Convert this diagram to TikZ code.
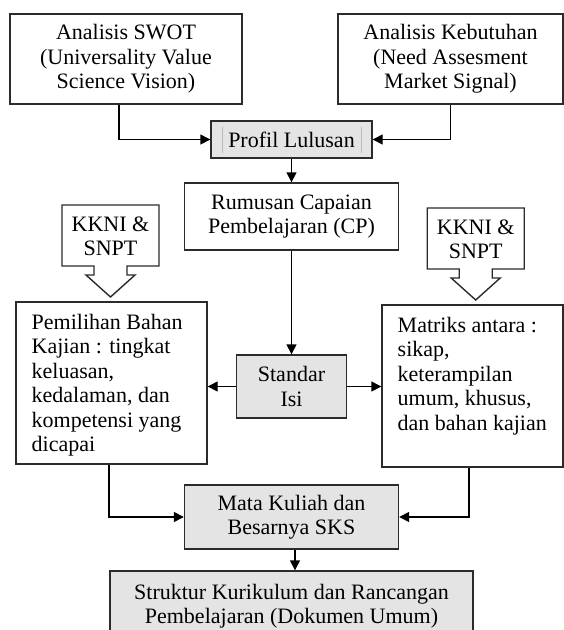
\documentclass[tikz,border=0pt]{standalone}
\usepackage{fontspec}
\setmainfont{Liberation Serif}
\usetikzlibrary{arrows.meta,calc}
\definecolor{boxgray}{HTML}{E4E4E4}
\definecolor{edge}{HTML}{2B2B2B}
\tikzset{
  box/.style={draw=edge, line width=1.4pt, rectangle, inner sep=0pt, align=center,
    font=\fontsize{22}{24.5}\selectfont},
  graybox/.style={box, fill=boxgray},
  txt/.style={inner sep=0pt, align=left, font=\fontsize{22}{24.5}\selectfont},
  conn/.style={draw=black, line width=1.4pt, -{Triangle[length=10pt,width=10pt]}},
  kknipath/.style={draw=edge, line width=1.4pt, fill=white, line join=miter},
  bar/.style={draw=gray!55, line width=1.2pt},
  kkni/.pic={
    \draw[kknipath] (-48.5,0) -- (48.5,0) -- (48.5,61) -- (16.5,61) -- (16.5,70)
      -- (24.5,70) -- (0,92) -- (-24.5,70) -- (-16.5,70) -- (-16.5,61) -- (-48.5,61) -- cycle;
    \node[txt, align=center] (-text) at (0,31.5) {KKNI \&\\SNPT};
  }
}
\begin{document}
\begin{tikzpicture}[x=1pt,y=-1pt]
\useasboundingbox (0,0) rectangle (564,630);
\node[box, minimum width=232, minimum height=90] (swot) at (126,59)
  {Analisis SWOT\\(Universality Value\\Science Vision)};
\node[box, minimum width=225, minimum height=90] (need) at (450.5,59)
  {Analisis Kebutuhan\\(Need Assesment\\Market Signal)};
\node[graybox, minimum width=161, minimum height=37] (profil) at (291.5,139.5) {Profil Lulusan};
\draw[bar] ($(profil.west)+(12,-13)$) -- ($(profil.west)+(12,13)$);
\draw[bar] ($(profil.east)+(-11,-13)$) -- ($(profil.east)+(-11,13)$);
\node[box, minimum width=214, minimum height=67] (cp) at (291.5,216.5)
  {Rumusan Capaian\\Pembelajaran (CP)};
\node[graybox, minimum width=110, minimum height=63] (isi) at (291.5,386.5) {Standar\\Isi};
\node[box, minimum width=191, minimum height=162] (bahan) at (111.5,383) {};
\node[txt, anchor=north west] (bahantxt) at (31.5,314)
  {Pemilihan Bahan\\Kajian : tingkat\\keluasan,\\kedalaman, dan\\kompetensi yang\\dicapai};
\node[box, minimum width=181, minimum height=162] (matriks) at (472.5,386) {};
\node[txt, anchor=north west] (matrikstxt) at (397.5,317)
  {Matriks antara :\\sikap,\\keterampilan\\umum, khusus,\\dan bahan kajian};
\node[graybox, minimum width=214, minimum height=64] (mk) at (291.5,517)
  {Mata Kuliah dan\\Besarnya SKS};
\node[graybox, minimum width=363, minimum height=70] (struktur) at (291.5,606)
  {Struktur Kurikulum dan Rancangan\\Pembelajaran (Dokumen Umum)};
\pic (kkniL) at (110.5,205) {kkni};
\pic (kkniR) at (475.7,208) {kkni};
\draw[conn] ([xshift=-7pt]swot.south) |- (profil.west);
\draw[conn] (need.south) |- (profil.east);
\draw[conn] (profil.south) -- (profil.south |- cp.north);
\draw[conn] (cp.south) -- (cp.south |- isi.north);
\draw[conn] (isi.west) -- (isi.west -| bahan.east);
\draw[conn] (isi.east) -- (isi.east -| matriks.west);
\draw[conn] ([xshift=-2.5pt]bahan.south) |- (mk.west);
\draw[conn] ([xshift=-3.5pt]matriks.south) |- (mk.east);
\draw[conn] ([xshift=3.5pt]mk.south) -- ([xshift=3.5pt]mk.south |- struktur.north);
\end{tikzpicture}
\end{document}
